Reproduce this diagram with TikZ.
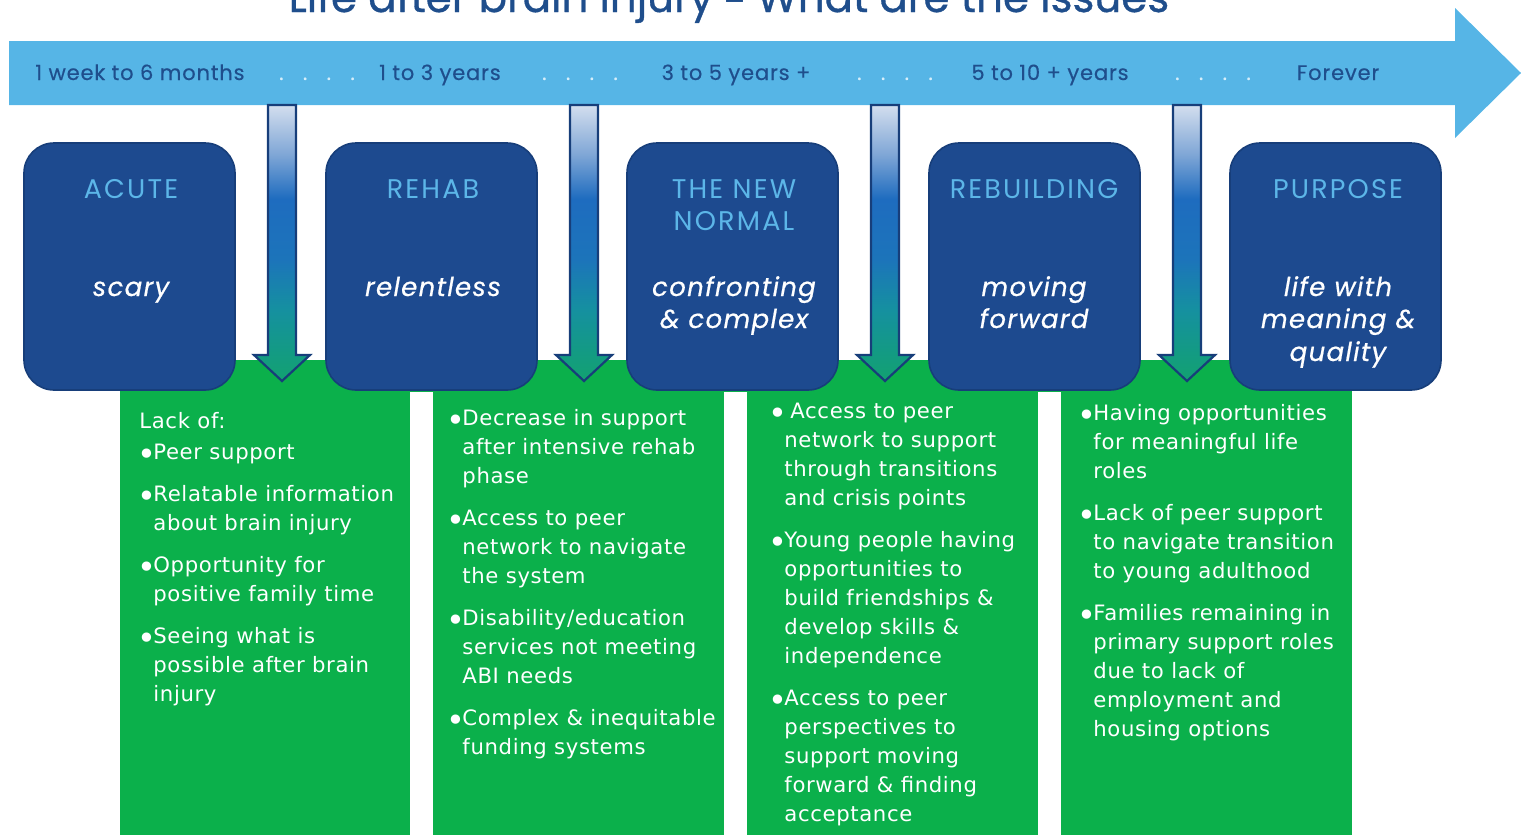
\documentclass[tikz,border=0pt]{standalone}
\usepackage{fontspec}
\setmainfont[LetterSpace=3]{DejaVu Sans}
\newfontfamily\headf[LetterSpace=8]{Poppins}
\newfontfamily\subf[LetterSpace=5,FakeBold=0.6]{Poppins}
\newfontfamily\tlf[LetterSpace=4,FakeBold=0.4]{Poppins}
\newfontfamily\titlef[FakeBold=0.8]{Poppins}
\newfontfamily\dashf{DejaVu Sans}
\definecolor{skyb}{HTML}{56B5E6}
\definecolor{navy}{HTML}{1D4A8F}
\definecolor{navyline}{HTML}{173E7A}
\definecolor{lblue}{HTML}{5CB6E8}
\definecolor{grn}{HTML}{0BB04B}
\definecolor{ttl}{HTML}{1F4E8C}
\definecolor{dotc}{HTML}{D6EEFA}
\definecolor{arrtop}{HTML}{D3DEEE}
\definecolor{arrlt}{HTML}{7FA6D6}
\definecolor{arrmid}{HTML}{1E6CBF}
\definecolor{arrmid2}{HTML}{1C74BA}
\definecolor{arrteal}{HTML}{1590A0}
\definecolor{arrbot}{HTML}{12A270}
\pgfdeclareverticalshading{arrsh}{100bp}{color(0bp)=(arrbot); color(25bp)=(arrbot); color(38bp)=(arrteal); color(47bp)=(arrmid2); color(58bp)=(arrmid); color(66bp)=(arrlt); color(75bp)=(arrtop); color(100bp)=(arrtop)}
\newcommand\bul{\makebox[5pt][l]{\hspace*{-3pt}\raisebox{-3pt}[0pt][0pt]{\dashf\fontsize{16}{16}\selectfont •}}}
\newcommand\ind{\hspace*{5pt}}
\tikzset{
  phase/.style={draw=navyline, line width=0.8pt, fill=navy, rounded corners=15pt,
    minimum width=105.5pt, minimum height=123.5pt, inner sep=0pt},
  headtxt/.style={text=lblue, font=\headf\fontsize{13.5}{16}\selectfont, anchor=base, inner sep=0pt},
  subtxt/.style={text=white, font=\subf\itshape\fontsize{13}{16}\selectfont, anchor=base, inner sep=0pt},
  tltxt/.style={text=ttl, font=\tlf\fontsize{10.5}{12}\selectfont, anchor=base, inner sep=0pt},
  tldots/.style={text=dotc, font=\tlf\fontsize{10.5}{12}\selectfont, anchor=base, inner sep=0pt},
  body/.style={text=white, font=\fontsize{10.6}{14.5}\selectfont, align=left, anchor=north west, inner sep=0pt},
}
\begin{document}
\begin{tikzpicture}[x=0.5pt,y=-0.5pt]
\useasboundingbox (0,0) rectangle (1521,835);
\clip (0,0) rectangle (1521,835);
% title (cut at top)
\node[anchor=base, inner sep=0pt, text=ttl, font=\titlef\fontsize{21}{24}\selectfont] (title) at (729,12) {Life after brain injury {\dashf –} What are the issues};
% main timeline arrow
\fill[skyb] (9,41) -- (1455,41) -- (1455,8) -- (1521,73) -- (1455,138) -- (1455,105) -- (9,105) -- cycle;
\node[tltxt] (t1) at (140,80) {1 week to 6 months};
\node[tldots] (d1) at (317,80) {.\ \ \ .\ \ \ .\ \ \ .};
\node[tltxt] (t2) at (440,80) {1 to 3 years};
\node[tldots] (d2) at (580,80) {.\ \ \ .\ \ \ .\ \ \ .};
\node[tltxt] (t3) at (736,80) {3 to 5 years +};
\node[tldots] (d3) at (895,80) {.\ \ \ .\ \ \ .\ \ \ .};
\node[tltxt] (t4) at (1050,80) {5 to 10 + years};
\node[tldots] (d4) at (1213,80) {.\ \ \ .\ \ \ .\ \ \ .};
\node[tltxt] (t5) at (1338,80) {Forever};
% green background
\fill[grn] (120,360) rectangle (1352,392);
\fill[grn] (120,360) rectangle (410,835);
\fill[grn] (433,360) rectangle (724,835);
\fill[grn] (747,360) rectangle (1038,835);
\fill[grn] (1061,360) rectangle (1352,835);
% down arrows
\foreach \cx in {282,584,885,1187}{
  \shade[shading=arrsh]
    (\cx-14,105) -- (\cx+14,105) -- (\cx+14,355) -- (\cx+28,355) -- (\cx,381) -- (\cx-28,355) -- (\cx-14,355) -- cycle;
  \draw[navyline, line width=1.1pt, line join=miter]
    (\cx-14,105) -- (\cx+14,105) -- (\cx+14,355) -- (\cx+28,355) -- (\cx,381) -- (\cx-28,355) -- (\cx-14,355) -- cycle;
}
% phase boxes
\node[phase] (b1) at (129.5,266.5) {};
\node[phase] (b2) at (431.5,266.5) {};
\node[phase] (b3) at (732.5,266.5) {};
\node[phase] (b4) at (1034.5,266.5) {};
\node[phase] (b5) at (1335.5,266.5) {};
\node[headtxt] (h1) at (131,198) {ACUTE};
\node[headtxt] (h2) at (433,198) {REHAB};
\node[headtxt] (h3a) at (734,198) {THE NEW};
\node[headtxt] (h3b) at (734,230) {NORMAL};
\node[headtxt] (h4) at (1034,198) {REBUILDING};
\node[headtxt] (h5) at (1338,198) {PURPOSE};
\node[subtxt] (s1) at (131,296) {scary};
\node[subtxt] (s2) at (433,296) {relentless};
\node[subtxt] (s3a) at (734,296) {confronting};
\node[subtxt] (s3b) at (734,328) {\& complex};
\node[subtxt] (s4a) at (1034,296) {moving};
\node[subtxt] (s4b) at (1034,328) {forward};
\node[subtxt] (s5a) at (1338,296) {life with};
\node[subtxt] (s5b) at (1338,328) {meaning \&};
\node[subtxt] (s5c) at (1338,361) {quality};
% column texts
\node[body] (c1) at (143,412) {\hspace*{-2pt}Lack of:\\[1pt]
\bul Peer support\\[6.5pt]
\bul Relatable information\\
\ind about brain injury\\[6.5pt]
\bul Opportunity for\\
\ind positive family time\\[6.5pt]
\bul Seeing what is\\
\ind possible after brain\\
\ind injury};
\node[body] (c2) at (452,409) {\bul Decrease in support\\
\ind after intensive rehab\\
\ind phase\\[6.5pt]
\bul Access to peer\\
\ind network to navigate\\
\ind the system\\[6.5pt]
\bul Disability/education\\
\ind services not meeting\\
\ind ABI needs\\[6.5pt]
\bul Complex \& inequitable\\
\ind funding systems};
\node[body] (c3) at (774,403) {\bul \hspace*{3pt}Access to peer\\
\ind network to support\\
\ind through transitions\\
\ind and crisis points\\[6.5pt]
\bul Young people having\\
\ind opportunities to\\
\ind build friendships \&\\
\ind develop skills \&\\
\ind independence\\[6.5pt]
\bul Access to peer\\
\ind perspectives to\\
\ind support moving\\
\ind forward \& finding\\
\ind acceptance};
\node[body] (c4) at (1083,404) {\bul Having opportunities\\
\ind for meaningful life\\
\ind roles\\[6.5pt]
\bul Lack of peer support\\
\ind to navigate transition\\
\ind to young adulthood\\[6.5pt]
\bul Families remaining in\\
\ind primary support roles\\
\ind due to lack of\\
\ind employment and\\
\ind housing options};
\end{tikzpicture}
\end{document}
